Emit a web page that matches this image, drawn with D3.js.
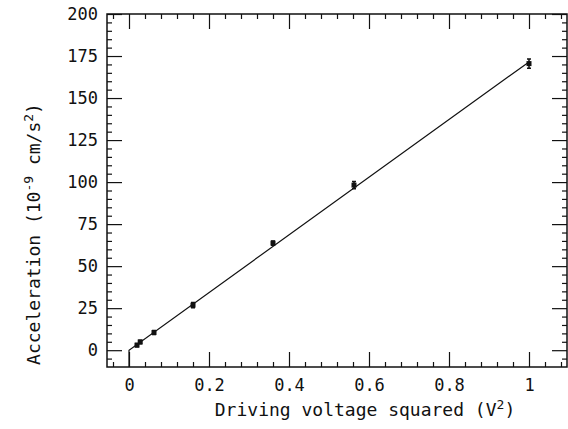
<!DOCTYPE html>
<html>
<head>
<meta charset="utf-8">
<script src="https://cdn.jsdelivr.net/npm/d3@7"></script>
<style>
  body { margin: 0; background: #fff; }
  svg text { font-family: "DejaVu Sans Mono", monospace; fill: #111; }
</style>
</head>
<body>
<div id="chart"></div>
<script>
var SVGWidth = 568;
var SVGHeight = 429;

// plot area
var Left = 107, Right = 567, Top = 14, Bottom = 367;

// measured points
var voltageSq = [0.02, 0.028, 0.0625, 0.16, 0.36, 0.5625, 1.0];
var accel = [3, 4.9, 10.5, 26.8, 63.7, 98.2, 170.5];
var accelErr = [1, 1, 1.2, 1.6, 1.2, 2.2, 2.8];

// fitted line
var fitX = [0, 0, 1];
var fitY = [-10, 0, 171.5];

// tick values
var xMajor = [0, 0.2, 0.4, 0.6, 0.8, 1];
var xLabels = ["0", "0.2", "0.4", "0.6", "0.8", "1"];
var yMajor = [0, 25, 50, 75, 100, 125, 150, 175, 200];

var x = d3.scaleLinear().domain([-0.055, 1.095]).range([Left, Right]);
var y = d3.scaleLinear().domain([-10, 200]).range([Bottom, Top]);

var xMinor = d3.range(-0.04, 1.09, 0.04).filter(function(v) {
    return Math.abs(v * 5 - Math.round(v * 5)) > 1e-6;
});
var yMinor = d3.range(-5, 200, 5).filter(function(v) { return v % 25 !== 0; });

var svg = d3.select("#chart")
    .append("svg")
    .attr("width", SVGWidth)
    .attr("height", SVGHeight);

function styleAxis(g) {
    g.select(".domain").remove();
    g.selectAll("line").attr("stroke", "#111").attr("stroke-width", 1.2);
    g.selectAll("text").attr("font-size", "17px").attr("fill", "#111");
}

// bottom axis, labelled
svg.append("g")
    .attr("transform", "translate(0," + Bottom + ")")
    .call(d3.axisBottom(x).tickValues(xMajor).tickSize(-15).tickPadding(12)
        .tickFormat(function(d, i) { return xLabels[i]; }))
    .call(styleAxis);
svg.append("g")
    .attr("transform", "translate(0," + Bottom + ")")
    .call(d3.axisBottom(x).tickValues(xMinor).tickSize(-5).tickFormat(""))
    .call(styleAxis);

// top axis
svg.append("g")
    .attr("transform", "translate(0," + Top + ")")
    .call(d3.axisTop(x).tickValues(xMajor).tickSize(-15).tickFormat(""))
    .call(styleAxis);
svg.append("g")
    .attr("transform", "translate(0," + Top + ")")
    .call(d3.axisTop(x).tickValues(xMinor).tickSize(-5).tickFormat(""))
    .call(styleAxis);

// left axis, labelled
svg.append("g")
    .attr("transform", "translate(" + Left + ",0)")
    .call(d3.axisLeft(y).tickValues(yMajor).tickSize(-15).tickPadding(9))
    .call(styleAxis);
svg.append("g")
    .attr("transform", "translate(" + Left + ",0)")
    .call(d3.axisLeft(y).tickValues(yMinor).tickSize(-5).tickFormat(""))
    .call(styleAxis);

// right axis
svg.append("g")
    .attr("transform", "translate(" + Right + ",0)")
    .call(d3.axisRight(y).tickValues(yMajor).tickSize(-15).tickFormat(""))
    .call(styleAxis);
svg.append("g")
    .attr("transform", "translate(" + Right + ",0)")
    .call(d3.axisRight(y).tickValues(yMinor).tickSize(-5).tickFormat(""))
    .call(styleAxis);

// frame
svg.append("rect")
    .attr("x", Left).attr("y", Top)
    .attr("width", Right - Left).attr("height", Bottom - Top)
    .attr("fill", "none").attr("stroke", "#111").attr("stroke-width", 1.5);

// fit line
var fit = fitX.map(function(v, i) { return [v, fitY[i]]; });
svg.append("path")
    .datum(fit)
    .attr("fill", "none")
    .attr("stroke", "#111")
    .attr("stroke-width", 1.2)
    .attr("d", d3.line()
        .x(function(d) { return x(d[0]); })
        .y(function(d) { return y(d[1]); }));

// error bars
var pts = voltageSq.map(function(v, i) { return { x: v, y: accel[i], e: accelErr[i] }; });
svg.selectAll(".err")
    .data(pts)
    .enter()
    .append("path")
    .attr("class", "err")
    .attr("fill", "none")
    .attr("stroke", "#111")
    .attr("stroke-width", 1.5)
    .attr("d", function(d) {
        var cx = x(d.x), y0 = y(d.y - d.e), y1 = y(d.y + d.e);
        return "M" + (cx - 2) + "," + y0 + "H" + (cx + 2) +
               "M" + cx + "," + y0 + "V" + y1 +
               "M" + (cx - 2) + "," + y1 + "H" + (cx + 2);
    });

// markers
svg.selectAll(".pt")
    .data(pts)
    .enter()
    .append("rect")
    .attr("class", "pt")
    .attr("x", function(d) { return x(d.x) - 2.5; })
    .attr("y", function(d) { return y(d.y) - 2.5; })
    .attr("width", 5)
    .attr("height", 5)
    .attr("fill", "#111");

// axis titles
var xt = svg.append("text")
    .attr("x", (Left + Right) / 2 + 28)
    .attr("y", 416)
    .attr("text-anchor", "middle")
    .attr("font-size", "18px");
xt.append("tspan").text("Driving voltage squared (V");
xt.append("tspan").attr("dy", -7).attr("font-size", "13px").text("2");
xt.append("tspan").attr("dy", 7).text(")");

var yt = svg.append("text")
    .attr("transform", "translate(40," + 234 + ") rotate(-90)")
    .attr("text-anchor", "middle")
    .attr("font-size", "18px");
yt.append("tspan").text("Acceleration (10");
yt.append("tspan").attr("dy", -7).attr("font-size", "13px").text("-9");
yt.append("tspan").attr("dy", 7).text(" cm/s");
yt.append("tspan").attr("dy", -7).attr("font-size", "13px").text("2");
yt.append("tspan").attr("dy", 7).text(")");
</script>
</body>
</html>
